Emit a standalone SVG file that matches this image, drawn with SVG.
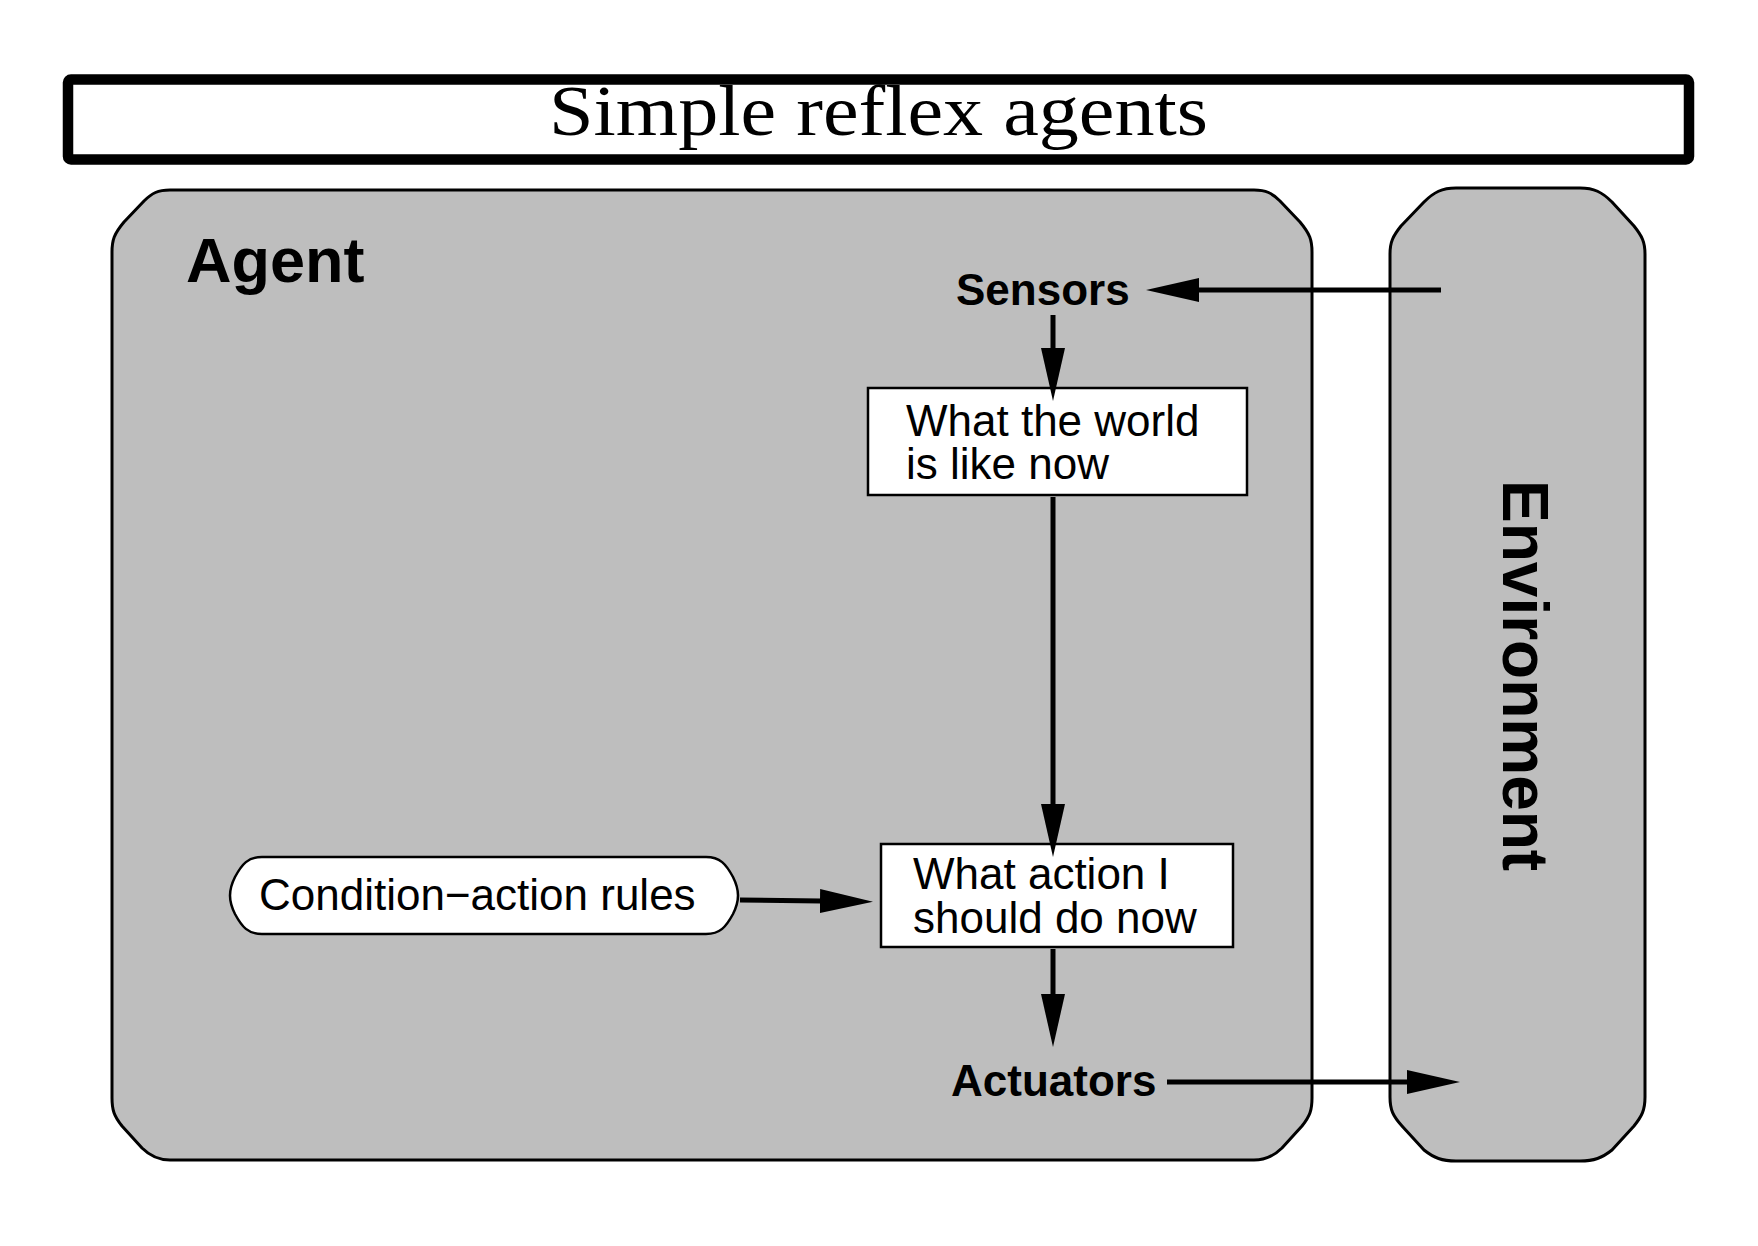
<svg xmlns="http://www.w3.org/2000/svg" width="1758" height="1246" viewBox="0 0 1758 1246">
  <defs>
    <style>
      .bg { fill: #ffffff; }
      .panel { fill: #bebebe; stroke: #000; stroke-width: 3; stroke-linejoin: round; }
      .box { fill: #ffffff; stroke: #000; stroke-width: 2.5; }
      .title { font-family: "Liberation Serif", "DejaVu Serif", serif; font-size: 72px; fill: #000; }
      .lbl { font-family: "Liberation Sans", Arial, sans-serif; font-size: 44px; fill: #000; }
      .bold { font-weight: bold; }
      .conn { fill: none; stroke: #000; stroke-width: 5; }
    </style>
    <marker id="arrow" markerUnits="userSpaceOnUse" markerWidth="54" markerHeight="26" viewBox="0 0 54 26" refX="1" refY="13" orient="auto">
      <path d="M0,1 L53,13 L0,25 Z" fill="#000"/>
    </marker>
  </defs>

  <rect class="bg" x="0" y="0" width="1758" height="1246"/>

  <g id="title">
    <rect x="68" y="79.5" width="1621" height="80" rx="3" fill="#fff" stroke="#000" stroke-width="10.5"/>
    <text class="title" x="878.5" y="135" text-anchor="middle" textLength="659" lengthAdjust="spacingAndGlyphs">Simple reflex agents</text>
  </g>

  <g id="agent">
    <path class="panel" d="M 170,190 L 1254,190 C 1266,190 1272,193 1280,201 L 1300,222 C 1310,234 1312,240 1312,252 L 1312,1098 C 1312,1110 1310,1116 1302,1126 L 1282,1148 C 1274,1156 1266,1160 1254,1160 L 170,1160 C 158,1160 150,1156 142,1148 L 122,1126 C 114,1116 112,1110 112,1098 L 112,252 C 112,240 114,234 124,222 L 144,201 C 152,193 158,190 170,190 Z"/>
    <text class="lbl bold" x="186" y="282" style="font-size:63px">Agent</text>
  </g>

  <g id="environment">
    <path class="panel" d="M 1456,188 L 1580,188 C 1594,188 1602,192 1612,202 L 1634,226 C 1642,236 1645,242 1645,254 L 1645,1097 C 1645,1110 1642,1116 1634,1126 L 1612,1150 C 1602,1158 1594,1161 1580,1161 L 1456,1161 C 1442,1161 1434,1158 1424,1150 L 1402,1126 C 1393,1116 1390,1110 1390,1097 L 1390,254 C 1390,242 1393,236 1401,226 L 1424,202 C 1434,192 1442,188 1456,188 Z"/>
    <text class="lbl bold" transform="translate(1503,480) rotate(90)" x="0" y="0" style="font-size:64px">Environment</text>
  </g>

  <g id="sensors">
    <text class="lbl bold" x="956" y="305">Sensors</text>
  </g>

  <g id="world">
    <rect class="box" x="868" y="388" width="379" height="107"/>
    <text class="lbl" x="906" y="436">What the world<tspan x="906" y="479">is like now</tspan></text>
  </g>

  <g id="rules">
    <path class="box" d="M 262,857 L 706,857 C 720,857 726,864 733,877 Q 738,887 738,895.5 Q 738,904 733,914 C 726,927 720,934 706,934 L 262,934 C 248,934 242,927 235,914 Q 230,904 230,895.5 Q 230,887 235,877 C 242,864 248,857 262,857 Z"/>
    <text class="lbl" x="259" y="910">Condition−action rules</text>
  </g>

  <g id="action">
    <rect class="box" x="881" y="844" width="352" height="103"/>
    <text class="lbl" x="913" y="889">What action I<tspan x="913" y="933">should do now</tspan></text>
  </g>

  <g id="actuators">
    <text class="lbl bold" x="951" y="1096">Actuators</text>
  </g>

  <g id="connectors">
    <line class="conn" x1="1441" y1="290" x2="1198" y2="290" marker-end="url(#arrow)"/>
    <line class="conn" x1="1053" y1="315" x2="1053" y2="349" marker-end="url(#arrow)"/>
    <line class="conn" x1="1053" y1="497" x2="1053" y2="805" marker-end="url(#arrow)"/>
    <line class="conn" x1="740" y1="900" x2="821" y2="901" marker-end="url(#arrow)"/>
    <line class="conn" x1="1053" y1="949" x2="1053" y2="995" marker-end="url(#arrow)"/>
    <line class="conn" x1="1167" y1="1082" x2="1408" y2="1082" marker-end="url(#arrow)"/>
  </g>
</svg>
